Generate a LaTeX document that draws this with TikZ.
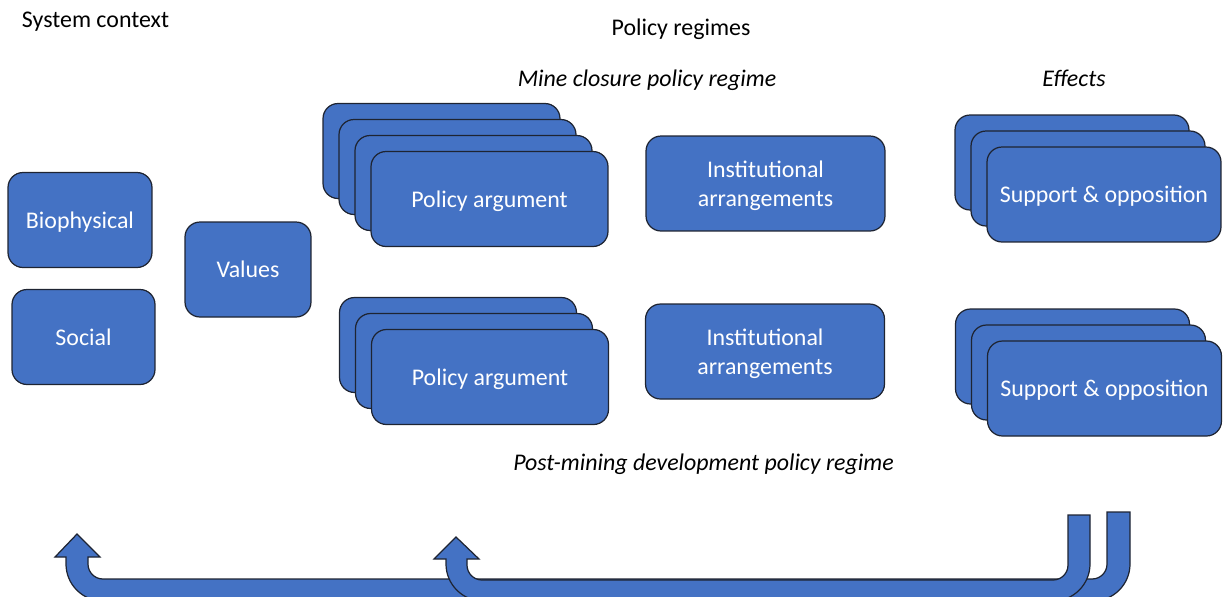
\documentclass[tikz,border=0pt]{standalone}
\usepackage{fontspec}
\setmainfont{Carlito}
\definecolor{boxblue}{RGB}{68,114,196}
\definecolor{edgedark}{RGB}{30,36,50}
\usetikzlibrary{calc}

\begin{document}
\begin{tikzpicture}[x=0.02cm, y=-0.02cm,
  blk/.style={draw=edgedark, line width=0.7pt, fill=boxblue, rounded corners=0.3cm,
    text=white, font=\fontsize{13.6}{16.4}\selectfont, align=center,
    inner sep=0pt, text depth=0pt, minimum height=1.9cm},
  lbl/.style={font=\fontsize{13.6}{16.4}\selectfont, text depth=0pt},
  ital/.style={font=\fontsize{13.6}{16.4}\selectfont\itshape, text depth=0pt},
  uturn/.style={draw=edgedark, line width=0.7pt, fill=boxblue}]
  \useasboundingbox (0,0) rectangle (1223,596);

  % headings
  \node[lbl] (sysctx) at (95.5,20) {System context};
  \node[lbl] (regimes) at (681,27) {Policy regimes};
  \node[ital] (mineclosure) at (647,78) {Mine closure policy regime};
  \node[ital] (effects) at (1074,78) {Effects};
  \node[ital] (postmining) at (703.5,462) {Post-mining development policy regime};

  % system context
  \node[blk, minimum width=2.88cm] (bio) at (80,220) {Biophysical};
  \node[blk, minimum width=2.86cm] (social) at (83.5,337) {Social};
  \node[blk, minimum width=2.52cm] (values) at (248,269.5) {Values};

  % mine closure regime
  \node[blk, minimum width=4.74cm] (argA4) at (441.5,151) {};
  \node[blk, minimum width=4.74cm] (argA3) at (457.5,167) {};
  \node[blk, minimum width=4.74cm] (argA2) at (473.5,183) {};
  \node[blk, minimum width=4.74cm] (argA1) at (489.5,199) {Policy argument};
  \node[blk, minimum width=4.78cm] (instA) at (765.5,183.5) {Institutional\\arrangements};

  % post-mining regime
  \node[blk, minimum width=4.74cm] (argB3) at (458,345) {};
  \node[blk, minimum width=4.74cm] (argB2) at (474,361) {};
  \node[blk, minimum width=4.74cm] (argB1) at (490,377) {Policy argument};
  \node[blk, minimum width=4.78cm] (instB) at (765,351.5) {Institutional\\arrangements};

  % effects
  \node[blk, minimum width=4.68cm] (suppA3) at (1072,162.5) {};
  \node[blk, minimum width=4.68cm] (suppA2) at (1088,178.5) {};
  \node[blk, minimum width=4.68cm] (suppA1) at (1104,194.5) {Support \& opposition};
  \node[blk, minimum width=4.68cm] (suppB3) at (1072.5,356.5) {};
  \node[blk, minimum width=4.68cm] (suppB2) at (1088.5,372.5) {};
  \node[blk, minimum width=4.68cm] (suppB1) at (1104.5,388.5) {Support \& opposition};

  % feedback u-turns
  \begin{scope}
    \clip (0,0) rectangle (1223,596);
    \draw[uturn] (77,534) -- (100,557) -- (88,557) -- (88,564)
      .. controls (88,572.3) and (94.7,579) .. (103,579) -- (1092,579)
      .. controls (1100.3,579) and (1107,572.3) .. (1107,564) -- (1107,512)
      -- (1130,512) -- (1130,564)
      .. controls (1130,584.4) and (1113.4,601) .. (1093,601) -- (103,601)
      .. controls (82.6,601) and (66,584.4) .. (66,564) -- (66,557) -- (55,557) -- cycle;
    \draw[uturn] (456,537) -- (479,559) -- (467,559) -- (467,565)
      .. controls (467,573.3) and (473.7,580) .. (482,580) -- (1053,580)
      .. controls (1061.3,580) and (1068,573.3) .. (1068,565) -- (1068,515)
      -- (1090,515) -- (1090,564)
      .. controls (1090,584.4) and (1073.4,601) .. (1053,601) -- (483,601)
      .. controls (462.6,601) and (446,584.4) .. (446,564) -- (446,559) -- (434,559) -- cycle;
  \end{scope}
\end{tikzpicture}
\end{document}
